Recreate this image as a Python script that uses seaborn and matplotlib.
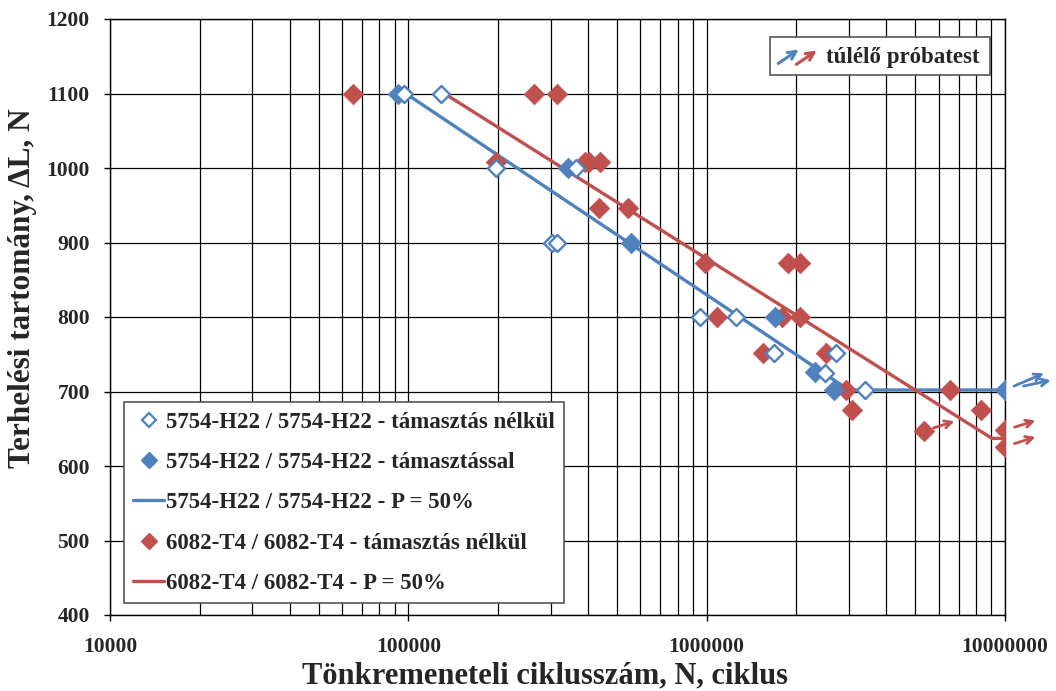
import numpy as np
import pandas as pd
import matplotlib
matplotlib.use("Agg")
import matplotlib.pyplot as plt
import seaborn as sns
from matplotlib.ticker import FixedLocator, NullFormatter, LogLocator
from matplotlib.lines import Line2D
from matplotlib.patches import Rectangle, FancyArrowPatch

# ---------------- data ----------------
# 5754-H22 without support (open blue diamonds)
b_open_N = [97000, 129000, 196000, 364000, 302000, 315000, 953000, 1250000,
            1680000, 2720000, 2490000, 3400000]
b_open_L = [1100, 1100, 1000, 1000, 900, 900, 800, 800, 752, 752, 725, 702]

# 5754-H22 with support (filled blue diamonds)
b_fill_N = [92000, 343000, 556000, 1690000, 2300000, 2670000, 10000000]
b_fill_L = [1100, 1000, 900, 800, 726, 702, 702]

# 6082-T4 without support (filled red diamonds)
r_N = [65000, 264000, 316000, 197000, 390000, 403000, 439000, 434000, 545000,
       990000, 1870000, 2060000, 1080000, 1790000, 2060000, 1540000, 2520000,
       2940000, 3070000, 6550000, 8280000, 5350000, 10000000, 10000000]
r_L = [1100, 1100, 1100, 1008, 1008, 1008, 1008, 946, 946,
       873, 873, 873, 800, 800, 800, 752, 752,
       702, 675, 702, 675, 647, 648, 626]

# P = 50% curves
b_fit_N = [98000, 3000000, 10000000]
b_fit_L = [1100, 702, 702]
r_fit_N = [132000, 9050000, 10000000]
r_fit_L = [1100, 637, 637]

# survivors (run-outs)
runout_N = [10000000, 10000000, 5350000, 10000000, 10000000]
runout_L = [702, 702, 647, 648, 626]
runout_c = ["b", "b", "r", "r", "r"]

x_ticks = [10000, 100000, 1000000, 10000000]
x_tick_labels = ["10000", "100000", "1000000", "10000000"]
y_ticks = [400, 500, 600, 700, 800, 900, 1000, 1100, 1200]

lab_b_open = "5754-H22 / 5754-H22 - támasztás nélkül"
lab_b_fill = "5754-H22 / 5754-H22 - támasztással"
lab_b_fit = "5754-H22 / 5754-H22 - P = 50%"
lab_r = "6082-T4 / 6082-T4 - támasztás nélkül"
lab_r_fit = "6082-T4 / 6082-T4 - P = 50%"

BLUE = "#4F81BD"
RED = "#C0504D"

# ---------------- style ----------------
sns.set_style("ticks")
plt.rcParams["font.family"] = ["Liberation Serif", "DejaVu Serif"]
plt.rcParams["font.weight"] = "bold"

fig = plt.figure(figsize=(10.56, 6.91), dpi=100)
ax = fig.add_axes([110 / 1056, 76 / 691, 895 / 1056, 596 / 691])

# fit lines
sns.lineplot(x=b_fit_N, y=b_fit_L, ax=ax, color=BLUE, lw=2.4, sort=False,
             estimator=None, zorder=3)
sns.lineplot(x=r_fit_N, y=r_fit_L, ax=ax, color=RED, lw=2.4, sort=False,
             estimator=None, zorder=3)

# markers
sns.scatterplot(x=r_N, y=r_L, ax=ax, marker="D", s=110, color=RED,
                edgecolor=RED, linewidth=0.5, zorder=4)
sns.scatterplot(x=b_fill_N, y=b_fill_L, ax=ax, marker="D", s=110, color=BLUE,
                edgecolor=BLUE, linewidth=0.5, zorder=5)
sns.scatterplot(x=b_open_N, y=b_open_L, ax=ax, marker="D", s=75,
                facecolor="white", edgecolor=BLUE, linewidth=1.7, zorder=6)

ax.set_xscale("log")
ax.set_xlim(10000, 10000000)
ax.set_ylim(400, 1200)

# ticks & grid
ax.xaxis.set_major_locator(FixedLocator(x_ticks))
ax.set_xticklabels(x_tick_labels)
ax.xaxis.set_minor_locator(LogLocator(base=10, subs=np.arange(2, 10)))
ax.xaxis.set_minor_formatter(NullFormatter())
ax.yaxis.set_major_locator(FixedLocator(y_ticks))
ax.set_yticklabels([str(v) for v in y_ticks])
ax.tick_params(axis="both", which="major", direction="out", length=4.5,
               width=1, color="black", labelsize=15.5, pad=10)
ax.tick_params(axis="x", which="major", pad=11)
ax.tick_params(axis="x", which="minor", length=0)
for lab in ax.get_xticklabels() + ax.get_yticklabels():
    lab.set_fontweight("bold")
ax.grid(True, which="major", axis="both", color="black", lw=0.9)
ax.grid(True, which="minor", axis="x", color="black", lw=0.9)
ax.set_axisbelow(True)
for sp in ax.spines.values():
    sp.set_color("black")
    sp.set_linewidth(1.0)

ax.set_xlabel("Tönkremeneteli ciklusszám, N, ciklus", fontsize=22,
              fontweight="bold")
ax.set_ylabel("Terhelési tartomány, ΔL, N", fontsize=22.5, fontweight="bold")
ax.xaxis.set_label_coords(0.486, -0.078)
ax.yaxis.set_label_coords(-0.0816, 0.549)

# run-out arrows
blue_done = 0
for n, l, c in zip(runout_N, runout_L, runout_c):
    col = BLUE if c == "b" else RED
    if c == "b":
        starts = [((7, 1), (28, 12)), ((13, -4), (33, 7))][blue_done]
        blue_done += 1
    else:
        starts = ((6, -4), (22, 7))
    (sx, sy), (ex, ey) = starts
    ax.annotate("", xy=(n, l), xycoords="data",
                xytext=(ex, ey), textcoords="offset points",
                arrowprops=dict(arrowstyle="<-", color=col, lw=2.0,
                                shrinkA=0, shrinkB=np.hypot(sx, sy),
                                mutation_scale=13),
                annotation_clip=False, zorder=7)

# legend
handles = [
    Line2D([], [], ls="none", marker="D", ms=7, mfc="white", mec=BLUE, mew=1.6),
    Line2D([], [], ls="none", marker="D", ms=8, mfc=BLUE, mec=BLUE),
    Line2D([], [], color=BLUE, lw=2.4),
    Line2D([], [], ls="none", marker="D", ms=8, mfc=RED, mec=RED),
    Line2D([], [], color=RED, lw=2.4),
]
labels = [lab_b_open, lab_b_fill, lab_b_fit, lab_r, lab_r_fit]
leg = ax.legend(handles, labels, loc="lower left",
                bbox_to_anchor=(14 / 895, 12 / 596), frameon=True,
                fancybox=False, edgecolor="#555555", framealpha=1,
                prop={"family": ["Liberation Serif"], "weight": "bold",
                      "size": 16.5},
                labelspacing=0.84, handlelength=1.35, handletextpad=0.1,
                borderpad=0.4, borderaxespad=0)
leg.get_frame().set_linewidth(1.2)
leg.set_zorder(10)

# survivor key box (figure pixel coordinates, origin bottom-left)
H = 691
box = Rectangle((770, H - 75), 220, 38, transform=None, facecolor="white",
                edgecolor="#555555", lw=1.2, zorder=20)
fig.patches.append(box)
fig.text(826 / 1056, (H - 57) / H, "túlélő próbatest", fontsize=16.5,
         fontweight="bold", va="center", ha="left", zorder=21)
for (x0, y0, x1, y1, col) in [(776, 65, 801, 48, BLUE), (794, 66, 819, 49, RED)]:
    fig.add_artist(FancyArrowPatch(
        (x0, H - y0), (x1, H - y1), transform=None, arrowstyle="->",
        mutation_scale=14, color=col, lw=2.2, zorder=22))

fig.savefig("out.png", dpi=100)
